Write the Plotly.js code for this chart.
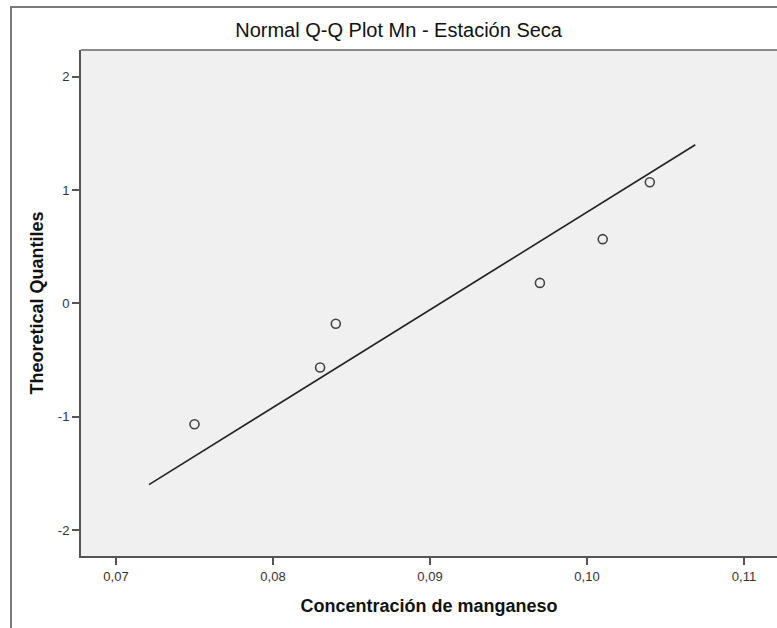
<!DOCTYPE html>
<html>
<head>
<meta charset="utf-8">
<script src="https://cdn.plot.ly/plotly-3.0.1.min.js"></script>
<style>html,body{margin:0;padding:0;background:#fff;}</style>
</head>
<body>
<div id="chart" style="width:777px;height:628px;"></div>
<script>
// Observed concentrations (sorted) and theoretical normal quantiles
const concentration = [0.075, 0.083, 0.084, 0.097, 0.101, 0.104];
const theoreticalQuantiles = [-1.068, -0.566, -0.180, 0.180, 0.566, 1.068];
// x extent of the reference line
const lineX = [0.0721, 0.1069];
const xTickVals = [0.07, 0.08, 0.09, 0.10, 0.11];
const xTickText = ["0,07", "0,08", "0,09", "0,10", "0,11"];
const yTickVals = [-2, -1, 0, 1, 2];
const yTickText = ["-2", "-1", "0", "1", "2"];

// reference line: standardized value (x - mean) / sd
const n = concentration.length;
const mean = concentration.reduce((a, b) => a + b, 0) / n;
const sd = Math.sqrt(concentration.reduce((a, b) => a + (b - mean) * (b - mean), 0) / (n - 1));
const lineY = lineX.map(x => (x - mean) / sd);

const font = "Liberation Sans, Arial, sans-serif";

const traces = [
  {
    x: lineX, y: lineY, type: "scatter", mode: "lines",
    line: {color: "#222222", width: 1.6}, hoverinfo: "skip", showlegend: false
  },
  {
    x: concentration, y: theoreticalQuantiles, type: "scatter", mode: "markers",
    marker: {symbol: "circle-open", size: 9, color: "#444444", line: {width: 1.6, color: "#444444"}},
    showlegend: false
  }
];

const layout = {
  width: 777, height: 628,
  margin: {l: 81, r: 0, t: 50, b: 72, pad: 0},
  paper_bgcolor: "#ffffff",
  plot_bgcolor: "#f0f0f0",
  font: {family: font, size: 13, color: "#222222"},
  title: {
    text: "Normal Q-Q Plot Mn - Estación Seca",
    font: {family: font, size: 20, color: "#111111"},
    xref: "container", x: 0.513, xanchor: "center",
    yref: "container", y: 1 - 30 / 628, yanchor: "middle"
  },
  xaxis: {
    range: [0.067771, 0.112102],
    tickvals: xTickVals, ticktext: xTickText,
    ticks: "outside", ticklen: 7, tickwidth: 2, tickcolor: "#555555",
    showline: true, linecolor: "#555555", linewidth: 2,
    showgrid: false, zeroline: false,
    tickfont: {family: font, size: 13, color: "#333333"},
    title: {text: "<b>Concentración de manganeso</b>", font: {family: font, size: 18, color: "#111111"}, standoff: 17},
    automargin: false
  },
  yaxis: {
    range: [-2.23, 2.2353],
    tickvals: yTickVals, ticktext: yTickText,
    ticks: "outside", ticklen: 7, tickwidth: 2, tickcolor: "#555555",
    showline: true, linecolor: "#555555", linewidth: 2,
    showgrid: false, zeroline: false,
    tickfont: {family: font, size: 13, color: "#333333"},
    title: {text: "<b>Theoretical Quantiles</b>", font: {family: font, size: 18, color: "#111111"}, standoff: 10},
    automargin: false
  },
  shapes: [
    {type: "rect", xref: "paper", yref: "paper", x0: (11 - 81) / 696, x1: 1.1, y0: -0.3, y1: (556 - 7) / 506,
     line: {color: "#7a7a7a", width: 2}, fillcolor: "rgba(0,0,0,0)", layer: "below"},
    {type: "line", xref: "paper", yref: "paper", x0: 0, x1: 1.1, y0: 1, y1: 1,
     line: {color: "#8a8a8a", width: 2}}
  ]
};

Plotly.newPlot("chart", traces, layout, {displayModeBar: false, staticPlot: true});
</script>
</body>
</html>
